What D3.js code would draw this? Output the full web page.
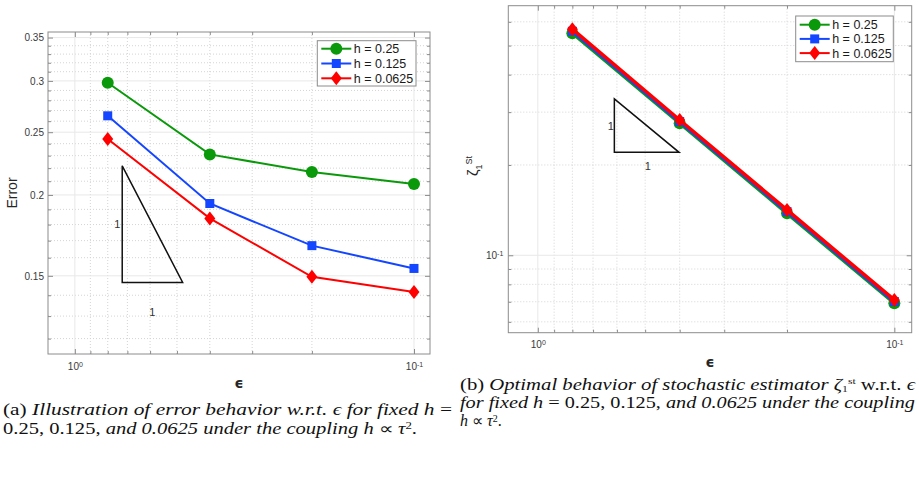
<!DOCTYPE html>
<html>
<head>
<meta charset="utf-8">
<script src="https://cdn.jsdelivr.net/npm/d3@7"></script>
<style>
  body { margin: 0; background: #fff; }
  svg { display: block; }
</style>
</head>
<body>
<div id="figure"></div>
<script>
// Values
const epsValues = [0.8, 0.4, 0.2, 0.1];
const seriesNames = ["h = 0.25", "h = 0.125", "h = 0.0625"];

// (a) error
const errorH025 = [0.298, 0.231, 0.217, 0.208];
const errorH0125 = [0.265, 0.194, 0.167, 0.154];
const errorH00625 = [0.244, 0.184, 0.1495, 0.1416];

// (b) stochastic estimator zeta_1^st
const zetaH025 = [0.550, 0.2754, 0.138, 0.0692];
const zetaH0125 = [0.558, 0.279, 0.1398, 0.0701];
const zetaH00625 = [0.567, 0.2825, 0.1416, 0.0710];

// ticks
const epsMajorTicks = [1, 0.1];
const epsMinorTicks = [0.9, 0.8, 0.7, 0.6, 0.5, 0.4, 0.3, 0.2];
const errorMajorTicks = [0.15, 0.2, 0.25, 0.3, 0.35];
const errorMinorTicks = [0.12, 0.13, 0.14, 0.16, 0.17, 0.18, 0.19, 0.21, 0.22, 0.23, 0.24,
                         0.26, 0.27, 0.28, 0.29, 0.31, 0.32, 0.33, 0.34];
const zetaMajorTicks = [0.1];
const zetaMinorTicks = [0.06, 0.07, 0.08, 0.09, 0.2, 0.3, 0.4, 0.5, 0.6];

// slope triangles (data coordinates: eps, value)
const errorTriangle = [[0.725, 0.2218], [0.725, 0.1465], [0.481, 0.1465]];
const zetaTriangle = [[0.61, 0.332], [0.61, 0.2204], [0.4016, 0.2204]];

const seriesColors = ["#0a990a", "#1446ff", "#ff0000"];
const seriesMarkers = ["circle", "square", "diamond"];

const svg = d3.select("#figure")
    .append("svg")
        .attr("width", 919)
        .attr("height", 488);

function drawMarker(sel, type, cx, cy, color) {
    if (type === "circle") {
        sel.append("circle").attr("cx", cx).attr("cy", cy).attr("r", 6).attr("fill", color);
    } else if (type === "square") {
        sel.append("rect").attr("x", cx - 4.5).attr("y", cy - 4.5)
            .attr("width", 9).attr("height", 9).attr("fill", color);
    } else {
        sel.append("path")
            .attr("d", `M${cx},${cy - 7}L${cx + 5.5},${cy}L${cx},${cy + 7}L${cx - 5.5},${cy}Z`)
            .attr("fill", color);
    }
}

function drawPanel(p) {
    const [x0, y0, x1, y1] = p.box;
    const xScale = d3.scaleLog().domain(p.xDomain).range([x0, x1]);
    const yScale = d3.scaleLog().domain(p.yDomain).range([y1, y0]);
    const g = svg.append("g");

    // grid
    g.append("g").selectAll("line").data(p.xMinor).join("line")
        .attr("x1", d => xScale(d)).attr("x2", d => xScale(d))
        .attr("y1", y0).attr("y2", y1)
        .attr("stroke", "#d4d4d4").attr("stroke-dasharray", "1,2");
    g.append("g").selectAll("line").data(p.yMinor).join("line")
        .attr("x1", x0).attr("x2", x1)
        .attr("y1", d => yScale(d)).attr("y2", d => yScale(d))
        .attr("stroke", "#d4d4d4").attr("stroke-dasharray", "1,2");
    g.append("g").selectAll("line").data(p.xMajor).join("line")
        .attr("x1", d => xScale(d)).attr("x2", d => xScale(d))
        .attr("y1", y0).attr("y2", y1)
        .attr("stroke", "#e8e8e8");
    g.append("g").selectAll("line").data(p.yMajor).join("line")
        .attr("x1", x0).attr("x2", x1)
        .attr("y1", d => yScale(d)).attr("y2", d => yScale(d))
        .attr("stroke", "#e8e8e8");

    // axes with inward ticks on all four sides
    const tickColor = "#8c8c8c";
    const styleAxis = a => {
        a.select(".domain").remove();
        a.selectAll(".tick line").attr("stroke", tickColor);
        a.selectAll(".tick text")
            .attr("fill", "#3a3a3a")
            .style("font", "10px 'Liberation Sans', Arial, sans-serif");
    };
    const axes = [
        [d3.axisBottom, `translate(0,${y1})`, xScale, p.xMajor, p.xMinor],
        [d3.axisTop, `translate(0,${y0})`, xScale, p.xMajor, p.xMinor],
        [d3.axisLeft, `translate(${x0},0)`, yScale, p.yMajor, p.yMinor],
        [d3.axisRight, `translate(${x1},0)`, yScale, p.yMajor, p.yMinor]
    ];
    axes.forEach(([axisFn, tr, sc, major, minor], i) => {
        g.append("g").attr("transform", tr)
            .call(axisFn(sc).tickValues(minor).tickSize(-3).tickFormat(""))
            .call(styleAxis);
        const ax = g.append("g").attr("transform", tr)
            .call(axisFn(sc).tickValues(major).tickSize(-5)
                .tickPadding(i === 0 ? p.xPad : p.yPad)
                .tickFormat(i === 0 || i === 2 ? (d => d) : ""))
            .call(styleAxis);
        if ((i === 0) || (i === 2 && p.yPower)) {
            // 10 with a raised exponent
            ax.selectAll(".tick text").each(function(d) {
                const t = d3.select(this).text("");
                t.append("tspan").text("10");
                t.append("tspan").attr("dy", "-0.45em").style("font-size", "7px")
                    .text(String(Math.round(Math.log10(d))));
            });
        }
    });

    // box
    g.append("rect")
        .attr("x", x0).attr("y", y0)
        .attr("width", x1 - x0).attr("height", y1 - y0)
        .attr("fill", "none").attr("stroke", tickColor);

    // slope triangle
    g.append("path")
        .attr("d", d3.line().x(d => xScale(d[0])).y(d => yScale(d[1]))(p.triangle) + "Z")
        .attr("fill", "none").attr("stroke", "#111").attr("stroke-width", 1.5);
    p.triangleLabels.forEach(([lx, ly]) => {
        g.append("text")
            .attr("x", lx).attr("y", ly)
            .attr("text-anchor", "middle").attr("dy", "0.35em")
            .style("font", "11px 'Liberation Sans', Arial, sans-serif")
            .attr("fill", "#333")
            .text("1");
    });

    // series
    const line = d3.line().x(d => xScale(d[0])).y(d => yScale(d[1]));
    p.series.forEach((vals, k) => {
        const pts = epsValues.map((e, j) => [e, vals[j]]);
        g.append("path")
            .attr("d", line(pts))
            .attr("fill", "none")
            .attr("stroke", seriesColors[k])
            .attr("stroke-width", p.lineWidth);
        const mg = g.append("g");
        pts.forEach(pt => drawMarker(mg, seriesMarkers[k], xScale(pt[0]), yScale(pt[1]), seriesColors[k]));
    });

    // legend
    const L = p.legend;
    const lg = g.append("g");
    lg.append("rect")
        .attr("x", L.x).attr("y", L.y).attr("width", L.w).attr("height", L.h)
        .attr("fill", "#fff").attr("stroke", "#8c8c8c");
    seriesNames.forEach((name, k) => {
        const ry = L.y + L.first + k * L.step;
        lg.append("line")
            .attr("x1", L.x + 4).attr("x2", L.x + 34)
            .attr("y1", ry).attr("y2", ry)
            .attr("stroke", seriesColors[k]).attr("stroke-width", 2);
        drawMarker(lg, seriesMarkers[k], L.x + 19, ry, seriesColors[k]);
        lg.append("text")
            .attr("x", L.x + 36.5).attr("y", ry).attr("dy", "0.36em")
            .style("font", "12.5px 'Liberation Sans', Arial, sans-serif")
            .attr("fill", "#1a1a1a")
            .text(name);
    });

    // axis labels
    g.append("text")
        .attr("x", p.xLabel[0]).attr("y", p.xLabel[1])
        .attr("text-anchor", "middle").attr("dy", "0.35em")
        .style("font", "bold 14px 'DejaVu Sans', sans-serif")
        .attr("fill", "#262626")
        .text("ϵ");
    const yl = g.append("text")
        .attr("transform", `translate(${p.yLabel[0]},${p.yLabel[1]}) rotate(-90)`)
        .attr("text-anchor", "middle").attr("dy", "0.35em")
        .style("font", "14px 'Liberation Sans', Arial, sans-serif")
        .attr("fill", "#262626");
    if (p.yLabelText === "zeta") {
        yl.append("tspan").text("ζ").style("font-size", "15px");
        yl.append("tspan").attr("dy", "4").style("font-size", "9px").text("1");
        yl.append("tspan").attr("dy", "-10").style("font-size", "9px").text("St");
    } else {
        yl.text(p.yLabelText);
    }
}

drawPanel({
    box: [48, 32, 430, 354],
    xDomain: [1.2, 0.0897],
    yDomain: [0.1136, 0.357],
    xMajor: epsMajorTicks, xMinor: epsMinorTicks,
    yMajor: errorMajorTicks, yMinor: errorMinorTicks,
    xPad: 9, yPad: 4, yPower: false,
    series: [errorH025, errorH0125, errorH00625],
    lineWidth: 2,
    triangle: errorTriangle,
    triangleLabels: [[117.3, 224.3], [152.3, 312.3]],
    legend: { x: 317.3, y: 40.7, w: 98.7, h: 45.3, first: 8, step: 14.8 },
    xLabel: [239, 383],
    yLabel: [12, 193],
    yLabelText: "Error"
});

drawPanel({
    box: [508.3, 5.7, 911.7, 332.7],
    xDomain: [1.21, 0.0894],
    yDomain: [0.0552, 0.679],
    xMajor: epsMajorTicks, xMinor: epsMinorTicks,
    yMajor: zetaMajorTicks, yMinor: zetaMinorTicks,
    xPad: 8, yPad: 5, yPower: true,
    series: [zetaH025, zetaH0125, zetaH00625],
    lineWidth: 3.5,
    triangle: zetaTriangle,
    triangleLabels: [[610.7, 126], [647.7, 165.7]],
    legend: { x: 795.7, y: 16, w: 97.6, h: 45.7, first: 8.7, step: 14.2 },
    xLabel: [710, 361.7],
    yLabel: [473, 166],
    yLabelText: "zeta"
});

// captions
const capFont = "'Liberation Serif', 'Times New Roman', serif";
function caption(x, y, width, parts) {
    const t = svg.append("text")
        .attr("x", x).attr("y", y)
        .style("font-family", capFont)
        .style("font-size", "16px")
        .attr("fill", "#111");
    if (width) t.attr("textLength", width).attr("lengthAdjust", "spacingAndGlyphs");
    parts.forEach(pt => {
        const s = t.append("tspan").text(pt.t);
        if (pt.i) s.style("font-style", "italic");
        if (pt.dy) s.attr("dy", pt.dy);
        if (pt.dx) s.attr("dx", pt.dx);
        if (pt.fs) s.style("font-size", pt.fs);
    });
}

caption(3, 415, 449, [
    { t: "(a) " },
    { t: "Illustration of error behavior w.r.t. ϵ for fixed h ", i: true },
    { t: "=" }
]);
caption(3, 434, 414, [
    { t: "0.25, 0.125, " },
    { t: "and 0.0625 under the coupling h ", i: true },
    { t: "∝ " },
    { t: "τ", i: true },
    { t: "2", dy: -5, fs: "10px" },
    { t: ".", dy: 5 }
]);
caption(460, 390, 455, [
    { t: "(b) " },
    { t: "Optimal behavior of stochastic estimator ζ", i: true },
    { t: "1", dy: 2, fs: "9px" },
    { t: "st", dy: -8, fs: "9px" },
    { t: " w.r.t. ", dy: 6 },
    { t: "ϵ", i: true }
]);
caption(460, 408, 455, [
    { t: "for fixed h ", i: true },
    { t: "= 0.25, 0.125, " },
    { t: "and 0.0625 under the coupling", i: true }
]);
caption(460, 426, null, [
    { t: "h ", i: true },
    { t: "∝ " },
    { t: "τ", i: true },
    { t: "2", dy: -4, fs: "10px" },
    { t: ".", dy: 4 }
]);
</script>
</body>
</html>
